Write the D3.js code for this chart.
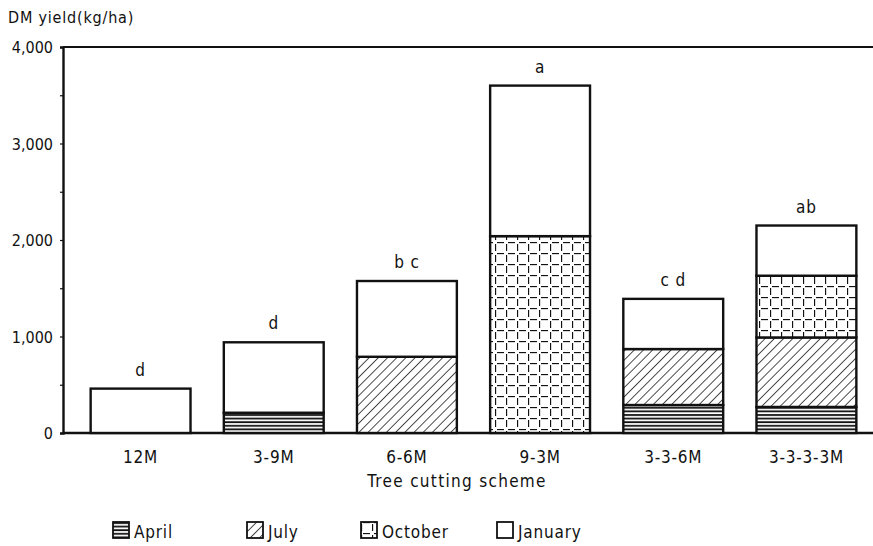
<!DOCTYPE html>
<html>
<head>
<meta charset="utf-8">
<script src="https://cdn.jsdelivr.net/npm/d3@7"></script>
<style>
  body { margin: 0; background: #fff; }
  svg text { font-family: "DejaVu Sans Condensed", "DejaVu Sans", sans-serif; fill: #111; letter-spacing: 0.8px; }
</style>
</head>
<body>
<svg id="chart" width="873" height="546"></svg>
<script>
// chart data
const schemes = ['12M', '3-9M', '6-6M', '9-3M', '3-3-6M', '3-3-3-3M'];
const seasons = ['April', 'July', 'October', 'January'];
const april   = [0, 210, 0, 0, 290, 270];
const july    = [0, 0, 790, 0, 580, 720];
const october = [0, 0, 0, 2040, 0, 640];
const january = [460, 730, 785, 1560, 520, 520];
const letters = ['d', 'd', 'b c', 'a', 'c d', 'ab'];
const yTicks = [0, 1000, 2000, 3000, 4000];

const svg = d3.select('#chart');
const margin = { left: 63, top: 47, right: 0, bottom: 113 };
const width = 873, height = 546;
const plotBottom = height - margin.bottom;

// patterns
const defs = svg.append('defs');

const pApril = defs.append('pattern')
  .attr('id', 'pat-april')
  .attr('patternUnits', 'userSpaceOnUse')
  .attr('width', 8).attr('height', 3.6);
pApril.append('rect').attr('width', 8).attr('height', 3.6).attr('fill', '#fff');
pApril.append('line').attr('x1', 0).attr('x2', 8).attr('y1', 1).attr('y2', 1)
  .attr('stroke', '#111').attr('stroke-width', 1.8);

const pJuly = defs.append('pattern')
  .attr('id', 'pat-july')
  .attr('patternUnits', 'userSpaceOnUse')
  .attr('width', 6.5).attr('height', 6.5)
  .attr('patternTransform', 'rotate(45)');
pJuly.append('rect').attr('width', 6.5).attr('height', 6.5).attr('fill', '#fff');
pJuly.append('line').attr('x1', 0).attr('x2', 0).attr('y1', 0).attr('y2', 6.5)
  .attr('stroke', '#111').attr('stroke-width', 1.5);

const pOct = defs.append('pattern')
  .attr('id', 'pat-october')
  .attr('patternUnits', 'userSpaceOnUse')
  .attr('width', 11).attr('height', 11);
pOct.append('rect').attr('width', 11).attr('height', 11).attr('fill', '#fff');
pOct.append('line').attr('x1', 0).attr('x2', 11).attr('y1', 0.5).attr('y2', 0.5)
  .attr('stroke', '#111').attr('stroke-width', 1.3)
  .attr('stroke-dasharray', '7 4').attr('stroke-dashoffset', -2);
pOct.append('line').attr('x1', 0.5).attr('x2', 0.5).attr('y1', 0).attr('y2', 11)
  .attr('stroke', '#111').attr('stroke-width', 1.3)
  .attr('stroke-dasharray', '7 4').attr('stroke-dashoffset', -2);

const fills = {
  April: 'url(#pat-april)',
  July: 'url(#pat-july)',
  October: 'url(#pat-october)',
  January: '#fff'
};

// scales
const x = d3.scaleBand()
  .domain(schemes)
  .range([74, width])
  .paddingInner(0.25)
  .paddingOuter(0.125);

const y = d3.scaleLinear()
  .domain([0, 4000])
  .range([plotBottom, margin.top]);

// stacked data
const table = schemes.map((s, i) => ({
  scheme: s,
  April: april[i],
  July: july[i],
  October: october[i],
  January: january[i]
}));
const stacked = d3.stack().keys(seasons)(table);

// frame lines
svg.append('line')
  .attr('x1', margin.left).attr('x2', width)
  .attr('y1', y(4000)).attr('y2', y(4000))
  .attr('stroke', '#111').attr('stroke-width', 2.2);
svg.append('line')
  .attr('x1', margin.left).attr('x2', width)
  .attr('y1', y(0)).attr('y2', y(0))
  .attr('stroke', '#111').attr('stroke-width', 2.4);

// y axis
const yAxis = d3.axisLeft(y)
  .tickValues(d3.range(0, 4001, 500))
  .tickSize(3)
  .tickFormat('');
const yG = svg.append('g')
  .attr('transform', `translate(${margin.left},0)`)
  .call(yAxis);
yG.select('.domain').attr('stroke', '#111').attr('stroke-width', 2.4);
yG.selectAll('.tick line').attr('stroke', '#111').attr('stroke-width', 1.2);

svg.append('g').selectAll('text')
  .data(yTicks)
  .join('text')
  .attr('x', 53)
  .attr('y', d => y(d) + 6)
  .attr('text-anchor', 'end')
  .style('font-size', '16px')
  .style('letter-spacing', '0px')
  .text(d => d === 0 ? '0' : d3.format(',')(d));

// bars
const layers = svg.append('g').selectAll('g')
  .data(stacked)
  .join('g')
  .attr('fill', d => fills[d.key]);

layers.selectAll('rect')
  .data(d => d.filter(s => s[1] - s[0] > 0))
  .join('rect')
  .attr('x', d => x(d.data.scheme))
  .attr('width', x.bandwidth())
  .attr('y', d => y(d[1]))
  .attr('height', d => y(d[0]) - y(d[1]))
  .attr('stroke', '#111')
  .attr('stroke-width', 2.4);

// significance letters
svg.append('g').selectAll('text')
  .data(schemes)
  .join('text')
  .attr('x', d => x(d) + x.bandwidth() / 2)
  .attr('y', (d, i) => y(april[i] + july[i] + october[i] + january[i]) - 13)
  .attr('text-anchor', 'middle')
  .style('font-size', '17px')
  .text((d, i) => letters[i]);

// x labels
svg.append('g').selectAll('text')
  .data(schemes)
  .join('text')
  .attr('x', d => x(d) + x.bandwidth() / 2)
  .attr('y', plotBottom + 30)
  .attr('text-anchor', 'middle')
  .style('font-size', '17px')
  .text(d => d);

svg.append('text')
  .attr('x', 457)
  .attr('y', plotBottom + 54)
  .attr('text-anchor', 'middle')
  .style('font-size', '17px')
  .style('letter-spacing', '1.3px')
  .text('Tree cutting scheme');

// y title
svg.append('text')
  .attr('x', 8)
  .attr('y', 23)
  .style('font-size', '16px')
  .text('DM yield(kg/ha)');

// legend
const legendX = [113, 247, 361, 497];
const legend = svg.append('g').selectAll('g')
  .data(seasons)
  .join('g')
  .attr('transform', (d, i) => `translate(${legendX[i]},522)`);
legend.append('rect')
  .attr('width', 16).attr('height', 16)
  .attr('fill', d => fills[d])
  .attr('stroke', '#111').attr('stroke-width', 1.8);
legend.append('text')
  .attr('x', 21)
  .attr('y', 16)
  .style('font-size', '17px')
  .text(d => d);
</script>
</body>
</html>
